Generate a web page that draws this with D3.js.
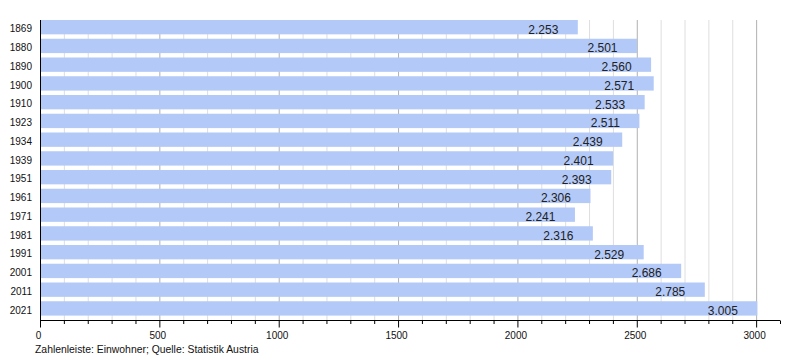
<!DOCTYPE html>
<html>
<head>
<meta charset="utf-8">
<title>Einwohner</title>
<script src="https://cdn.jsdelivr.net/npm/d3@7"></script>
<style>
body { margin: 0; background: #fff; }
svg { font-family: "Liberation Sans", Arial, sans-serif; display: block; }
</style>
</head>
<body>
<svg width="800" height="360"></svg>
<script>
var years = ["1869", "1880", "1890", "1900", "1910", "1923", "1934", "1939",
             "1951", "1961", "1971", "1981", "1991", "2001", "2011", "2021"];
var population = [2253, 2501, 2560, 2571, 2533, 2511, 2439, 2401,
                  2393, 2306, 2241, 2316, 2529, 2686, 2785, 3005];
var majorTicks = [0, 500, 1000, 1500, 2000, 2500, 3000];
var caption = "Zahlenleiste: Einwohner; Quelle: Statistik Austria";

var svg = d3.select("svg");
// note: "top" is taken by window.top, so plot edges get their own names
var plotL = 40, plotR = 780, plotT = 20, plotB = 320;

var x = d3.scaleLinear().domain([0, 3100]).range([plotL, plotR]);
var y = d3.scaleBand().domain(years).range([plotT, plotB]).padding(0);
var barH = y.bandwidth() * 0.765;

// gridlines: every 100 light, every 500 darker
var minor = d3.range(100, 3100, 100).filter(function(d){ return d % 500; });
svg.append("g").selectAll("line")
    .data(minor)
  .enter().append("line")
    .attr("x1", function(d){ return x(d) + 0.5; })
    .attr("x2", function(d){ return x(d) + 0.5; })
    .attr("y1", plotT).attr("y2", plotB)
    .attr("stroke", "#dedede");
svg.append("g").selectAll("line")
    .data(majorTicks.slice(1))
  .enter().append("line")
    .attr("x1", function(d){ return x(d) + 0.5; })
    .attr("x2", function(d){ return x(d) + 0.5; })
    .attr("y1", plotT).attr("y2", plotB)
    .attr("stroke", "#b0b0b0");

// bars
svg.append("g").selectAll("rect")
    .data(population)
  .enter().append("rect")
    .attr("x", x(0))
    .attr("y", function(d, i){ return y(years[i]); })
    .attr("width", function(d){ return x(d) - x(0); })
    .attr("height", barH)
    .attr("fill", "#b3c9f8");

// value labels (German thousands separator)
var de = d3.formatLocale({decimal: ",", thousands: ".", grouping: [3], currency: ["", " €"]});
var fmt = de.format(",d");
svg.append("g").selectAll("text")
    .data(population)
  .enter().append("text")
    .attr("x", function(d){ return x(d) - 19.5; })
    .attr("y", function(d, i){ return y(years[i]) + 13.5; })
    .attr("text-anchor", "end")
    .attr("font-size", 12)
    .attr("fill", "#222")
    .text(function(d){ return fmt(d); });

// year labels
svg.append("g").selectAll("text")
    .data(years)
  .enter().append("text")
    .attr("x", 32)
    .attr("y", function(d){ return y(d) + 12.3; })
    .attr("text-anchor", "end")
    .attr("font-size", 10)
    .attr("fill", "#111")
    .text(function(d){ return d; });

// left axis line
svg.append("line")
    .attr("x1", plotL + 0.5).attr("x2", plotL + 0.5)
    .attr("y1", plotT).attr("y2", plotB + 0.5)
    .attr("stroke", "#000");

// bottom axis
var axisG = svg.append("g").attr("transform", "translate(0," + (plotB + 0.5) + ")");
axisG.append("line")
    .attr("x1", plotL).attr("x2", plotR)
    .attr("stroke", "#000");
axisG.selectAll("line.minor")
    .data(minor)
  .enter().append("line")
    .attr("class", "minor")
    .attr("x1", function(d){ return x(d) + 0.5; })
    .attr("x2", function(d){ return x(d) + 0.5; })
    .attr("y1", 0).attr("y2", 3.5)
    .attr("stroke", "#000");
axisG.selectAll("line.major")
    .data(majorTicks.concat([3100]))
  .enter().append("line")
    .attr("class", "major")
    .attr("x1", function(d){ return x(d) + 0.5; })
    .attr("x2", function(d){ return x(d) + 0.5; })
    .attr("y1", 0).attr("y2", function(d){ return d === 3100 ? 3.5 : 7; })
    .attr("stroke", "#000");
axisG.selectAll("text")
    .data(majorTicks)
  .enter().append("text")
    .attr("x", function(d){ return x(d) - 1.5; })
    .attr("y", 18.5)
    .attr("text-anchor", "middle")
    .attr("font-size", 10)
    .attr("fill", "#111")
    .text(function(d){ return d; });

svg.append("text")
    .attr("x", 35).attr("y", 352.5)
    .attr("font-size", 10.4)
    .attr("fill", "#111")
    .text(caption);
</script>
</body>
</html>
